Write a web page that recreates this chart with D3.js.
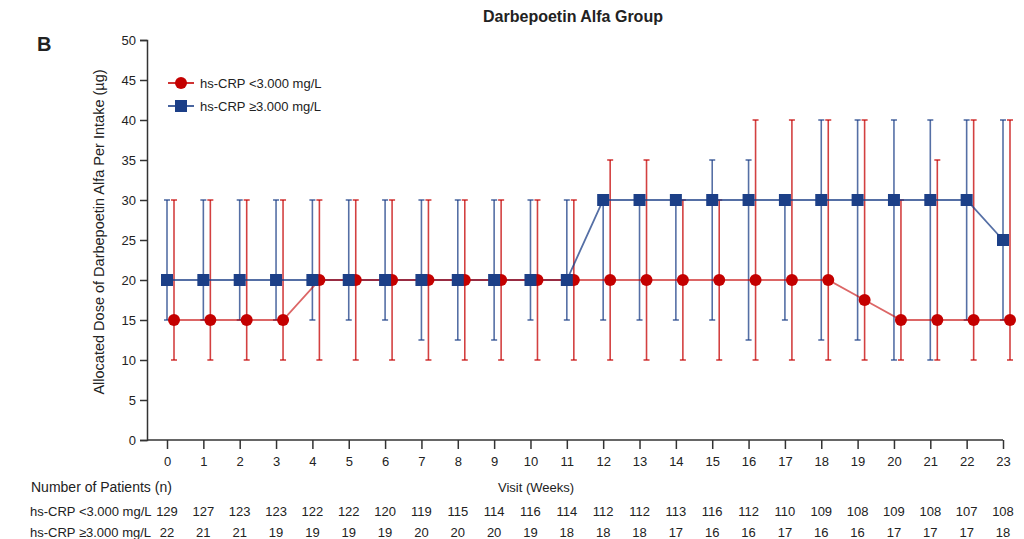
<!DOCTYPE html>
<html lang="en">
<head>
<meta charset="utf-8">
<title>Darbepoetin Alfa Group</title>
<script src="https://d3js.org/d3.v7.min.js"></script>
<style>
  body { margin: 0; background: #fff; }
  text { font-family: "Liberation Sans", Arial, sans-serif; fill: #222; }
</style>
</head>
<body>
<script>
// visits (weeks)
var visits = [0,1,2,3,4,5,6,7,8,9,10,11,12,13,14,15,16,17,18,19,20,21,22,23];

// hs-CRP < 3.000 mg/L : median and range
var lowMedian = [15,15,15,15,20,20,20,20,20,20,20,20,20,20,20,20,20,20,20,17.5,15,15,15,15];
var lowUpper  = [30,30,30,30,30,30,30,30,30,30,30,30,35,35,30,30,40,40,40,40,30,35,40,40];
var lowLower  = [10,10,10,10,10,10,10,10,10,10,10,10,10,10,10,10,10,10,10,10,10,10,10,10];

// hs-CRP >= 3.000 mg/L
var highMedian = [20,20,20,20,20,20,20,20,20,20,20,20,30,30,30,30,30,30,30,30,30,30,30,25];
var highUpper  = [30,30,30,30,30,30,30,30,30,30,30,30,30,30,30,35,35,30,40,40,40,40,40,40];
var highLower  = [15,15,15,15,15,15,15,12.5,12.5,12.5,15,15,15,15,15,15,12.5,15,12.5,12.5,10,10,15,15];

// number of patients
var nLow  = [129,127,123,123,122,122,120,119,115,114,116,114,112,112,113,116,112,110,109,108,109,108,107,108];
var nHigh = [22,21,21,19,19,19,19,20,20,20,19,18,18,18,17,16,16,17,16,16,17,17,17,18];

var yTicks = [0,5,10,15,20,25,30,35,40,45,50];

var w = 1024, h = 539;
var red = "#c40000", blue = "#1c3f87";

var svg = d3.select("body").append("svg").attr("width", w).attr("height", h);

var x = d3.scaleLinear().domain([0, 23]).range([167, 1003]);
var y = d3.scaleLinear().domain([0, 50]).range([440, 40]);
var off = 7; // red series drawn slightly right of blue

// axes
var yAxis = svg.append("g").attr("transform", "translate(147,0)")
    .call(d3.axisLeft(y).tickValues(yTicks).tickSize(7).tickPadding(4));
var xAxis = svg.append("g").attr("transform", "translate(0,440)")
    .call(d3.axisBottom(x).tickValues(visits).tickSize(9).tickPadding(8));
[yAxis, xAxis].forEach(function (a) {
    a.select(".domain").attr("stroke", "#333").attr("stroke-width", 1.5);
    a.selectAll(".tick line").attr("stroke", "#333").attr("stroke-width", 1.5);
    a.selectAll(".tick text").style("font-size", "13px").style("font-family", "Liberation Sans, Arial, sans-serif").attr("fill", "#222");
});
// x domain line runs from y axis
xAxis.select(".domain").attr("d", "M147,0H" + x(23));

// titles
svg.append("text").attr("x", 573).attr("y", 22).attr("text-anchor", "middle")
    .style("font-size", "16px").style("font-weight", "bold").text("Darbepoetin Alfa Group");
svg.append("text").attr("x", 37).attr("y", 51)
    .style("font-size", "20px").style("font-weight", "bold").text("B");
svg.append("text").attr("transform", "translate(104,232) rotate(-90)").attr("text-anchor", "middle")
    .style("font-size", "14.5px").text("Allocated Dose of Darbepoetin Alfa Per Intake (µg)");
svg.append("text").attr("x", 536).attr("y", 492).attr("text-anchor", "middle")
    .style("font-size", "13px").text("Visit (Weeks)");

// patient table
svg.append("text").attr("x", 31).attr("y", 492).style("font-size", "14px").text("Number of Patients (n)");
svg.append("text").attr("x", 30).attr("y", 516).style("font-size", "13px").text("hs-CRP <3.000 mg/L");
svg.append("text").attr("x", 30).attr("y", 537).style("font-size", "13px").text("hs-CRP \u22653.000 mg/L");
svg.selectAll(".nlow").data(visits).enter().append("text")
    .attr("x", function (d) { return x(d); }).attr("y", 516).attr("text-anchor", "middle")
    .style("font-size", "13px").text(function (d, i) { return nLow[i]; });
svg.selectAll(".nhigh").data(visits).enter().append("text")
    .attr("x", function (d) { return x(d); }).attr("y", 537).attr("text-anchor", "middle")
    .style("font-size", "13px").text(function (d, i) { return nHigh[i]; });

function errorBars(lower, upper, color, dx) {
    var g = svg.append("g").attr("stroke", color).attr("stroke-width", 1.6).attr("stroke-opacity", 0.75);
    visits.forEach(function (v, i) {
        var cx = x(v) + dx;
        g.append("line").attr("x1", cx).attr("x2", cx).attr("y1", y(lower[i])).attr("y2", y(upper[i]));
        g.append("line").attr("x1", cx - 3).attr("x2", cx + 3).attr("y1", y(lower[i])).attr("y2", y(lower[i]));
        g.append("line").attr("x1", cx - 3).attr("x2", cx + 3).attr("y1", y(upper[i])).attr("y2", y(upper[i]));
    });
}
errorBars(highLower, highUpper, blue, 0);
errorBars(lowLower, lowUpper, red, off);

var lineHigh = d3.line().x(function (d) { return x(d); }).y(function (d, i) { return y(highMedian[i]); });
var lineLow = d3.line().x(function (d) { return x(d) + off; }).y(function (d, i) { return y(lowMedian[i]); });
svg.append("path").attr("d", lineHigh(visits)).attr("fill", "none").attr("stroke", blue)
    .attr("stroke-width", 1.8).attr("stroke-opacity", 0.75);
svg.append("path").attr("d", lineLow(visits)).attr("fill", "none").attr("stroke", red)
    .attr("stroke-width", 1.8).attr("stroke-opacity", 0.6);

svg.selectAll(".circ").data(visits).enter().append("circle")
    .attr("cx", function (d) { return x(d) + off; })
    .attr("cy", function (d, i) { return y(lowMedian[i]); })
    .attr("r", 6).attr("fill", red);
svg.selectAll(".sq").data(visits).enter().append("rect")
    .attr("x", function (d) { return x(d) - 6; })
    .attr("y", function (d, i) { return y(highMedian[i]) - 6; })
    .attr("width", 12).attr("height", 12).attr("fill", blue);

// legend
var lg = svg.append("g");
lg.append("line").attr("x1", 168).attr("x2", 194).attr("y1", 83).attr("y2", 83).attr("stroke", red).attr("stroke-width", 1.6);
lg.append("circle").attr("cx", 181).attr("cy", 83).attr("r", 6).attr("fill", red);
lg.append("text").attr("x", 200).attr("y", 88).style("font-size", "13px").text("hs-CRP <3.000 mg/L");
lg.append("line").attr("x1", 168).attr("x2", 194).attr("y1", 106).attr("y2", 106).attr("stroke", blue).attr("stroke-width", 1.6);
lg.append("rect").attr("x", 175).attr("y", 100).attr("width", 12).attr("height", 12).attr("fill", blue);
lg.append("text").attr("x", 200).attr("y", 111).style("font-size", "13px").text("hs-CRP \u22653.000 mg/L");
</script>
</body>
</html>
